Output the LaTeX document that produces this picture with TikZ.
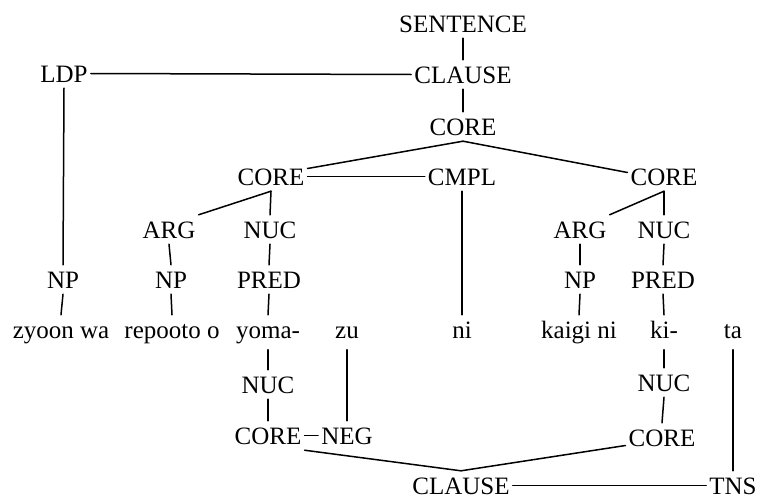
\documentclass[tikz,border=0pt]{standalone}
\usepackage{fontspec}
\setmainfont{Liberation Serif}
\begin{document}
\begin{tikzpicture}[x=1pt,y=-1pt,
  lab/.style={anchor=base, font=\fontsize{25}{30}\selectfont, text height=17pt, text depth=0pt, inner ysep=6pt, inner xsep=3pt},
  word/.style={lab, text depth=5.5pt},
  edge/.style={line width=1.5pt, line cap=round}]
\fill[white] (0,0) rectangle (760,498);
\useasboundingbox (0,0) rectangle (760,498);
% upper tree
\node[lab] (S)    at (463,32)  {SENTENCE};
\node[lab] (CLt)  at (463,83)  {CLAUSE};
\node[lab] (LDP)  at (64,82)   {LDP};
\node[lab] (COt)  at (463,135) {CORE};
\node[lab] (COL)  at (271,185) {CORE};
\node[lab] (CMPL) at (462,185) {CMPL};
\node[lab] (COR)  at (664,185) {CORE};
\node[lab] (ARGL) at (169,238) {ARG};
\node[lab] (NUCL) at (270,238) {NUC};
\node[lab] (ARGR) at (580,238) {ARG};
\node[lab] (NUCR) at (664,238) {NUC};
\node[lab] (NP0)  at (63,288)  {NP};
\node[lab] (NPL)  at (171,288) {NP};
\node[lab] (PRL)  at (269,288) {PRED};
\node[lab] (NPR)  at (580,288) {NP};
\node[lab] (PRR)  at (663,288) {PRED};
% words
\node[word] (w1) at (61,338)  {zyoon wa};
\node[word] (w2) at (172,338) {repooto o};
\node[word] (w3) at (268,338) {yoma-};
\node[word] (w4) at (347,338) {zu};
\node[word] (w5) at (462,338) {ni};
\node[word] (w6) at (579,338) {kaigi ni};
\node[word] (w7) at (664,338) {ki-};
\node[word] (w8) at (733,338) {ta};
% lower tree
\node[lab] (NUCLb) at (268,393) {NUC};
\node[lab] (NUCRb) at (664,391) {NUC};
\node[lab] (COLb)  at (268,444) {CORE};
\node[lab] (NEG)   at (347,444) {NEG};
\node[lab] (CORb)  at (662,446) {CORE};
\node[lab] (CLb)   at (461,494) {CLAUSE};
\node[lab] (TNS)   at (733,494) {TNS};
% connectors upper
\draw[edge] (S.south) -- (CLt.north);
\draw[edge] (LDP.east) -- (CLt.west);
\draw[edge] (CLt.south) -- (COt.north);
\draw[edge] (COt.south) -- ([yshift=8pt]COL.east);
\draw[edge] (COt.south) -- ([yshift=4pt]COR.west);
\draw[edge] (COL.east) -- (CMPL.west);
\draw[edge] (COL.south) -- (ARGL.north east);
\draw[edge] (COL.south) -- (NUCL.north);
\draw[edge] (COR.south) -- (ARGR.north east);
\draw[edge] (COR.south) -- (NUCR.north);
\draw[edge] (LDP.south) -- (NP0.north);
\draw[edge] (ARGL.south) -- (NPL.north);
\draw[edge] (NUCL.south) -- (PRL.north);
\draw[edge] (ARGR.south) -- (NPR.north);
\draw[edge] (NUCR.south) -- (PRR.north);
\draw[edge] (NP0.south) -- (w1.north);
\draw[edge] (NPL.south) -- (w2.north);
\draw[edge] (PRL.south) -- (w3.north);
\draw[edge] (CMPL.south) -- (w5.north);
\draw[edge] (NPR.south) -- (w6.north);
\draw[edge] (PRR.south) -- (w7.north);
% connectors lower
\draw[edge] (w3.south) -- (NUCLb.north);
\draw[edge] (NUCLb.south) -- (COLb.north);
\draw[edge] (w4.south) -- (NEG.north);
\draw[edge] (COLb.east) -- (NEG.west);
\draw[edge] (w7.south) -- (NUCRb.north);
\draw[edge] (NUCRb.south) -- (CORb.north);
\draw[edge] (w8.south) -- (TNS.north);
\draw[edge] (COLb.south east) -- (CLb.north);
\draw[edge] (CLb.north) -- ([yshift=-8pt]CORb.west);
\draw[edge] (CLb.east) -- (TNS.west);
\end{tikzpicture}
\end{document}
